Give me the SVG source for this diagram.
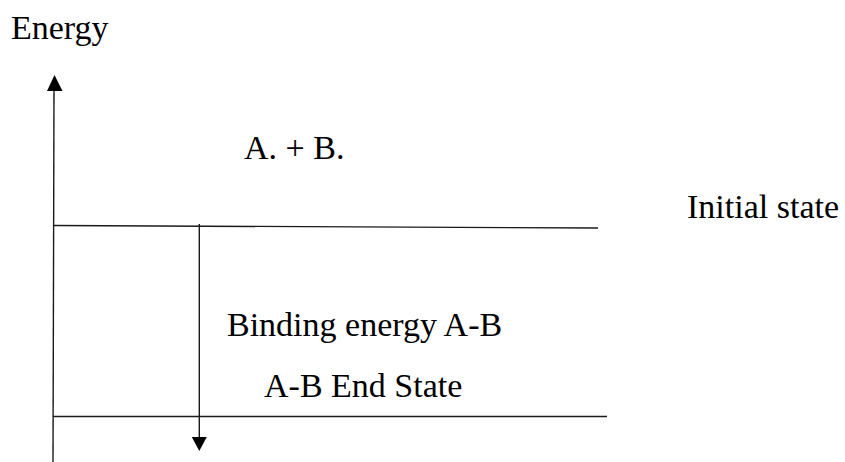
<svg xmlns="http://www.w3.org/2000/svg" width="845" height="462" viewBox="0 0 845 462">
  <style>
    .t { font-family: "Liberation Serif", "Times New Roman", serif; font-size: 34px; fill: #000; }
    .ln { stroke: #1a1a1a; stroke-width: 1.4; fill: none; }
  </style>
  <rect width="845" height="462" fill="#fff"/>
  <g id="connectors">
    <line class="ln" x1="54" y1="88" x2="53" y2="462"/>
    <polygon points="54.5,75 47,91 62.5,91" fill="#000"/>
    <line class="ln" x1="54" y1="225.5" x2="598" y2="228"/>
    <line class="ln" x1="53" y1="416.5" x2="607" y2="416.5"/>
    <line class="ln" x1="199.3" y1="224" x2="199.3" y2="440"/>
    <polygon points="191.8,437 206.8,437 199.3,451" fill="#000"/>
  </g>
  <g id="label-energy"><text class="t" x="11" y="39">Energy</text></g>
  <g id="label-ab"><text class="t" x="244" y="159">A. + B.</text></g>
  <g id="label-initial"><text class="t" x="687" y="218">Initial state</text></g>
  <g id="label-binding"><text class="t" x="227" y="336">Binding energy A-B</text></g>
  <g id="label-end"><text class="t" x="264" y="396.5">A-B End State</text></g>
</svg>
